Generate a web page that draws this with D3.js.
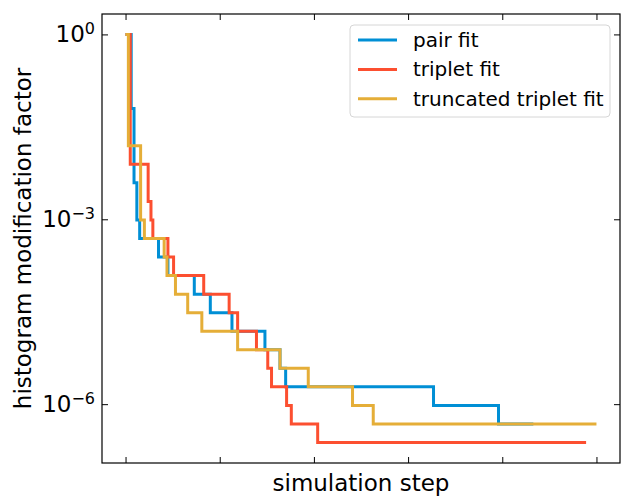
<!DOCTYPE html>
<html>
<head>
<meta charset="utf-8">
<script src="https://cdn.jsdelivr.net/npm/d3@7/dist/d3.min.js"></script>
<style>
	body { margin: 0; background: #fff; }
	text { font-family: "DejaVu Sans", sans-serif; fill: #000; }
</style>
</head>
<body>
<div id="chart"></div>
<script>
// Data: step where each new level starts, and the level.
// The last entry of each series repeats the final level at the end of the run.
var seriesNames  = ["pair fit", "triplet fit", "truncated triplet fit"];
var seriesColors = ["#008fd5", "#fc4f30", "#e5ae38"];

var pairSteps  = [0, 0.06, 0.09, 0.12, 0.15, 0.35, 0.45, 0.73, 0.90, 1.13, 1.48, 1.64, 1.70, 3.27, 3.96, 4.33];
var pairValues = [1, 6.25e-2, 3.91e-3, 9.77e-4, 4.88e-4, 2.44e-4, 1.22e-4, 6.10e-5, 3.05e-5, 1.53e-5, 7.63e-6, 3.81e-6, 1.91e-6, 9.54e-7, 4.77e-7, 4.77e-7];

var tripletSteps  = [0, 0.05, 0.24, 0.27, 0.29, 0.45, 0.51, 0.83, 1.10, 1.19, 1.39, 1.51, 1.55, 1.71, 1.76, 2.04, 4.89];
var tripletValues = [1, 7.81e-3, 1.95e-3, 9.77e-4, 4.88e-4, 2.44e-4, 1.22e-4, 6.10e-5, 3.05e-5, 1.53e-5, 7.63e-6, 3.81e-6, 1.91e-6, 9.54e-7, 4.77e-7, 2.38e-7, 2.38e-7];

var truncSteps  = [0, 0.03, 0.16, 0.20, 0.41, 0.44, 0.53, 0.66, 0.81, 1.19, 1.64, 1.94, 2.41, 2.63, 5.00];
var truncValues = [1, 1.56e-2, 9.77e-4, 4.88e-4, 2.44e-4, 1.22e-4, 6.10e-5, 3.05e-5, 1.53e-5, 7.63e-6, 3.81e-6, 1.91e-6, 9.54e-7, 4.77e-7, 4.77e-7];

var xTicks = [0, 1, 2, 3, 4, 5];
var yTicks = [1, 1e-3, 1e-6];
var yTickExponents = ["0", "\u22123", "\u22126"];

var allSteps  = [pairSteps, tripletSteps, truncSteps];
var allValues = [pairValues, tripletValues, truncValues];

// Dimensions
var svg_dx = 621,
	svg_dy = 497,
	margin = {top: 14, right: 1, bottom: 34, left: 102},
	width  = svg_dx - margin.left - margin.right,
	height = svg_dy - margin.top - margin.bottom;

var svg = d3.select("#chart")
			.append("svg")
			.attr("width", svg_dx)
			.attr("height", svg_dy);

var g = svg.append("g")
		   .attr("transform", "translate(" + margin.left + "," + margin.top + ")");

// x scale with 5% padding either side, like matplotlib
var xExt = d3.extent(d3.merge(allSteps)),
	xPad = (xExt[1] - xExt[0]) * 0.05;
var xScale = d3.scaleLinear()
			   .domain([xExt[0] - xPad, xExt[1] + xPad])
			   .range([0, width]);

// log y scale, padded 5% in log space
var yExt = d3.extent(d3.merge(allValues)),
	lo = Math.log10(yExt[0]), hi = Math.log10(yExt[1]),
	yPad = (hi - lo) * 0.05;
var yScale = d3.scaleLog()
			   .domain([Math.pow(10, lo - yPad), Math.pow(10, hi + yPad)])
			   .range([height, 0]);

// Lines
var line = d3.line()
			 .curve(d3.curveStepAfter)
			 .x(function(d) { return xScale(d[0]); })
			 .y(function(d) { return yScale(d[1]); });

seriesNames.forEach(function(name, i) {
	var pts = allSteps[i].map(function(s, j) { return [s, allValues[i][j]]; });
	g.append("path")
	 .datum(pts)
	 .attr("fill", "none")
	 .attr("stroke", seriesColors[i])
	 .attr("stroke-width", 3)
	 .attr("stroke-linejoin", "miter")
	 .attr("d", line);
});

// Axes, ticks pointing inwards on all four sides
var tickLen = 6;
function styleAxis(sel) {
	sel.select(".domain").remove();
	sel.selectAll(".tick line").attr("stroke", "#000").attr("stroke-width", 1);
}

g.append("g")
 .attr("transform", "translate(0," + height + ")")
 .call(d3.axisBottom(xScale).tickValues(xTicks).tickSize(-tickLen).tickFormat(""))
 .call(styleAxis);

g.append("g")
 .call(d3.axisTop(xScale).tickValues(xTicks).tickSize(-tickLen).tickFormat(""))
 .call(styleAxis);

g.append("g")
 .attr("transform", "translate(" + width + ",0)")
 .call(d3.axisRight(yScale).tickValues(yTicks).tickSize(-tickLen).tickFormat(""))
 .call(styleAxis);

var yAxisHandle = g.append("g")
	.call(d3.axisLeft(yScale).tickValues(yTicks).tickSize(-tickLen).tickPadding(7).tickFormat(""))
	.call(styleAxis);

yAxisHandle.selectAll(".tick text")
	.attr("font-size", "23px")
	.attr("font-family", "DejaVu Sans")
	.each(function(d, i) {
		var t = d3.select(this);
		t.append("tspan").text("10");
		t.append("tspan")
		 .attr("dy", "-0.5em")
		 .attr("font-size", "16px")
		 .text(yTickExponents[i]);
	});

// Frame
g.append("rect")
 .attr("width", width)
 .attr("height", height)
 .attr("fill", "none")
 .attr("stroke", "#000")
 .attr("stroke-width", 1.2);

// Axis labels
svg.append("text")
   .attr("x", margin.left + width / 2)
   .attr("y", 491)
   .attr("text-anchor", "middle")
   .style("font-size", "23px")
   .text("simulation step");

svg.append("text")
   .attr("transform", "rotate(-90)")
   .attr("x", -(margin.top + height / 2))
   .attr("y", 31)
   .attr("text-anchor", "middle")
   .style("font-size", "23px")
   .text("histogram modification factor");

// Legend
var legend = svg.append("g").attr("transform", "translate(350,25)");
legend.append("rect")
	  .attr("width", 260)
	  .attr("height", 92)
	  .attr("rx", 4)
	  .attr("fill", "#fff")
	  .attr("fill-opacity", 0.8)
	  .attr("stroke", "#d6d6d6")
	  .attr("stroke-width", 1);

seriesNames.forEach(function(name, i) {
	var ly = 15 + i * 29.4;
	legend.append("line")
		  .attr("x1", 8).attr("x2", 47)
		  .attr("y1", ly).attr("y2", ly)
		  .attr("stroke", seriesColors[i])
		  .attr("stroke-width", 3);
	legend.append("text")
		  .attr("x", 63)
		  .attr("y", ly)
		  .attr("dy", "0.35em")
		  .style("font-size", "20px")
		  .text(name);
});
</script>
</body>
</html>
